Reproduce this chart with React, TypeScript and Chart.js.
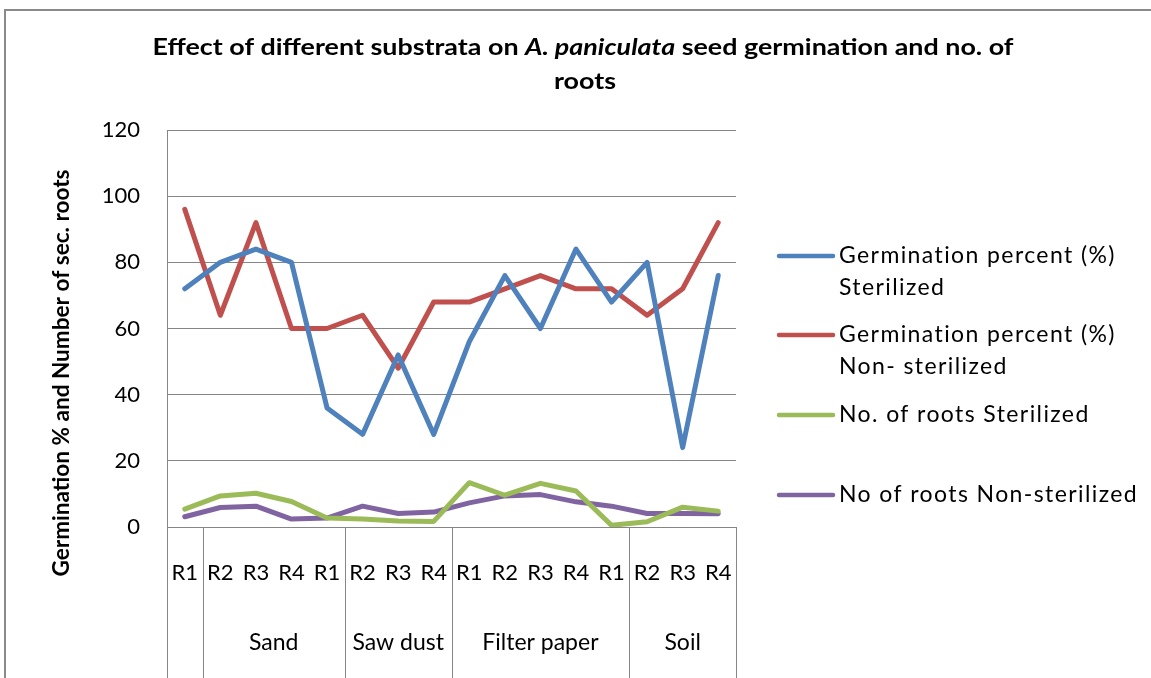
import React, { useEffect, useRef } from "react";
import { Chart, registerables } from "chart.js";

Chart.register(...registerables);

// ---------- data ----------
const categories = ["R1", "R2", "R3", "R4", "R1", "R2", "R3", "R4", "R1", "R2", "R3", "R4", "R1", "R2", "R3", "R4"];
const groupLabels = ["", "Sand", "Saw dust", "Filter paper", "Soil"];
const groupSizes = [1, 4, 3, 5, 3];

const germSterilized = [72, 80, 84, 80, 36, 28, 52, 28, 56, 76, 60, 84, 68, 80, 24, 76];
const germNonSterilized = [96, 64, 92, 60, 60, 64, 48, 68, 68, 72, 76, 72, 72, 64, 72, 92];
const rootsSterilized = [5.4, 9.4, 10.2, 7.7, 2.7, 2.4, 1.8, 1.7, 13.4, 9.6, 13.2, 10.9, 0.5, 1.6, 6.0, 4.8];
const rootsNonSterilized = [3.1, 5.9, 6.3, 2.4, 2.7, 6.3, 4.1, 4.5, 7.3, 9.4, 9.8, 7.6, 6.3, 4.1, 4.1, 4.0];

const yTicks = [0, 20, 40, 60, 80, 100, 120];

const seriesLabels = [
  ["Germination percent (%)", "Sterilized"],
  ["Germination percent (%)", "Non- sterilized"],
  ["No. of roots Sterilized"],
  ["No of roots Non-sterilized"],
];
const seriesColors = ["#4F81BD", "#C0504D", "#9BBB59", "#8064A2"];

const titleParts = [
  { text: "Effect of different substrata on ", italic: false },
  { text: "A. paniculata", italic: true },
  { text: " seed germination and no. of", italic: false },
];
const titleLine2 = "roots";
const yTitle = "Germination % and Number of sec. roots";

const FONT = "Lato, 'Open Sans', sans-serif";

const decorPlugin = {
  id: "decor",
  afterDraw(chart: any) {
    const { ctx, chartArea, scales } = chart;
    const xs = scales.x;
    const H = chart.height;
    ctx.save();

    // outer chart border (top + left)
    ctx.strokeStyle = "#8a8a8a";
    ctx.lineWidth = 2;
    ctx.beginPath();
    ctx.moveTo(5, H);
    ctx.lineTo(5, 10);
    ctx.lineTo(chart.width, 10);
    ctx.stroke();

    // category group box lines
    const bounds: number[] = [0];
    groupSizes.forEach((s) => bounds.push(bounds[bounds.length - 1] + s));
    const n = categories.length;
    const bx = (k: number) => {
      if (k <= 0) return chartArea.left;
      if (k >= n) return chartArea.right;
      return (xs.getPixelForValue(k - 1) + xs.getPixelForValue(k)) / 2;
    };
    ctx.strokeStyle = "#868686";
    ctx.lineWidth = 1;
    bounds.forEach((k) => {
      const px = Math.round(bx(k)) + 0.5;
      ctx.beginPath();
      ctx.moveTo(px, chartArea.bottom);
      ctx.lineTo(px, H);
      ctx.stroke();
    });

    // group labels
    ctx.fillStyle = "#000";
    ctx.font = `23px ${FONT}`;
    ctx.textAlign = "center";
    ctx.textBaseline = "middle";
    groupLabels.forEach((g, i) => {
      if (!g) return;
      const cx = (bx(bounds[i]) + bx(bounds[i + 1])) / 2;
      ctx.fillText(g, cx, 643);
    });

    // chart title
    ctx.textBaseline = "middle";
    ctx.textAlign = "left";
    const fontFor = (italic: boolean) => `${italic ? "italic " : ""}bold 22px ${FONT}`;
    let total = 0;
    titleParts.forEach((p) => {
      ctx.font = fontFor(p.italic);
      total += ctx.measureText(p.text).width;
    });
    const targetW = 861;
    const sx = targetW / total;
    ctx.save();
    ctx.translate(583 - targetW / 2, 48);
    ctx.scale(sx, 1);
    let cx = 0;
    titleParts.forEach((p) => {
      ctx.font = fontFor(p.italic);
      ctx.fillText(p.text, cx, 0);
      cx += ctx.measureText(p.text).width;
    });
    ctx.restore();
    ctx.save();
    ctx.font = fontFor(false);
    ctx.translate(585, 82);
    ctx.scale(sx, 1);
    ctx.textAlign = "center";
    ctx.fillText(titleLine2, 0, 0);
    ctx.restore();

    // y axis title
    ctx.save();
    ctx.font = `bold 22px ${FONT}`;
    const yw = ctx.measureText(yTitle).width;
    const ysx = 407 / yw;
    ctx.translate(62, 373);
    ctx.rotate(-Math.PI / 2);
    ctx.scale(ysx, 1);
    ctx.textAlign = "center";
    ctx.textBaseline = "middle";
    ctx.fillText(yTitle, 0, 0);
    ctx.restore();

    // legend
    const legendY = [256, 335, 415, 495];
    ctx.font = `23px ${FONT}`;
    try {
      (ctx as any).letterSpacing = "1.4px";
    } catch (e) {}
    ctx.textAlign = "left";
    ctx.textBaseline = "middle";
    chart.data.datasets.forEach((ds: any, i: number) => {
      const y = legendY[i];
      ctx.strokeStyle = ds.borderColor;
      ctx.lineWidth = 4.5;
      ctx.lineCap = "round";
      ctx.beginPath();
      ctx.moveTo(779, y);
      ctx.lineTo(833, y);
      ctx.stroke();
      ctx.fillStyle = "#000";
      (seriesLabels[i] || []).forEach((line, j) => {
        ctx.fillText(line, 839, y + j * 32);
      });
    });
    try {
      (ctx as any).letterSpacing = "0px";
    } catch (e) {}

    ctx.restore();
  },
};

export default function App() {
  const ref = useRef<HTMLCanvasElement | null>(null);

  useEffect(() => {
    if (!ref.current) return;
    const mk = (data: number[], i: number) => ({
      label: seriesLabels[i].join(" "),
      data,
      borderColor: seriesColors[i],
      backgroundColor: seriesColors[i],
      borderWidth: 5,
      pointRadius: 0,
      pointHoverRadius: 0,
      tension: 0,
      fill: false,
      borderCapStyle: "round" as const,
      borderJoinStyle: "round" as const,
    });
    const chart = new Chart(ref.current, {
      type: "line",
      data: {
        labels: categories,
        datasets: [
          mk(germSterilized, 0),
          mk(germNonSterilized, 1),
          mk(rootsSterilized, 2),
          mk(rootsNonSterilized, 3),
        ],
      },
      options: {
        responsive: false,
        animation: false,
        layout: { padding: { left: 0, top: 130, right: 415, bottom: 0 } },
        plugins: {
          legend: { display: false },
          title: { display: false },
          tooltip: { enabled: false },
        },
        scales: {
          x: {
            offset: true,
            grid: { display: false, drawTicks: false },
            border: { display: true, color: "#868686", width: 1 },
            ticks: {
              autoSkip: false,
              maxRotation: 0,
              minRotation: 0,
              padding: 33,
              color: "#000",
              font: { family: FONT, size: 22 },
            },
            afterFit: (s: any) => {
              s.height = 151;
            },
          },
          y: {
            min: 0,
            max: 120,
            afterBuildTicks: (s: any) => {
              s.ticks = yTicks.map((v) => ({ value: v }));
            },
            grid: { color: "#868686", lineWidth: 1, drawTicks: false },
            border: { display: true, color: "#868686", width: 1 },
            ticks: {
              padding: 27,
              color: "#000",
              font: { family: FONT, size: 22 },
            },
            afterFit: (s: any) => {
              s.width = 167;
            },
          },
        },
      },
      plugins: [decorPlugin],
    });
    return () => chart.destroy();
  }, []);

  return (
    <div style={{ position: "absolute", left: 0, top: 0, width: 1151, height: 678, background: "#fff" }}>
      <canvas ref={ref} width={1151} height={678} style={{ display: "block" }} />
    </div>
  );
}
